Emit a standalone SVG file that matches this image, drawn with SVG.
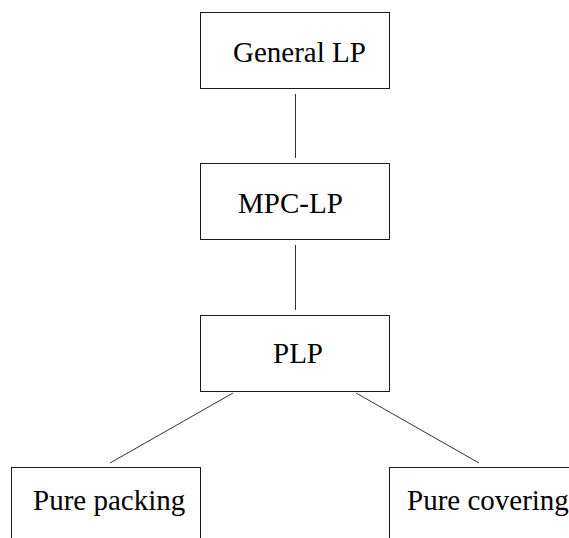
<svg xmlns="http://www.w3.org/2000/svg" width="569" height="538" viewBox="0 0 569 538">
  <style>
    .box { fill: #ffffff; stroke: #1a1a1a; stroke-width: 1; }
    .label { font-family: "Liberation Serif", "Times New Roman", serif; font-size: 29px; fill: #000000; }
    .edge { stroke: #333333; stroke-width: 1; fill: none; }
  </style>
  <rect width="569" height="538" fill="#ffffff"/>

  <!-- hierarchy connectors -->
  <g id="connectors">
    <line class="edge" x1="295.5" y1="94" x2="295.5" y2="158" stroke="#666666"/>
    <line class="edge" x1="295.5" y1="245" x2="295.5" y2="310" stroke="#666666"/>
    <line class="edge" x1="233" y1="393" x2="110" y2="463"/>
    <line class="edge" x1="356" y1="393" x2="479" y2="463"/>
  </g>

  <g id="general-lp">
    <rect class="box" x="200.5" y="12.5" width="189" height="76"/>
    <text class="label" x="233" y="62">General LP</text>
  </g>

  <g id="mpc-lp">
    <rect class="box" x="200.5" y="163.5" width="189" height="76"/>
    <text class="label" x="238" y="213">MPC-LP</text>
  </g>

  <g id="plp">
    <rect class="box" x="200.5" y="315.5" width="189" height="76"/>
    <text class="label" x="273" y="363">PLP</text>
  </g>

  <g id="pure-packing">
    <rect class="box" x="11.5" y="467.5" width="189" height="80"/>
    <text class="label" x="33" y="510">Pure packing</text>
  </g>

  <g id="pure-covering">
    <rect class="box" x="389.5" y="467.5" width="200" height="80"/>
    <text class="label" x="407" y="510">Pure covering</text>
  </g>
</svg>
